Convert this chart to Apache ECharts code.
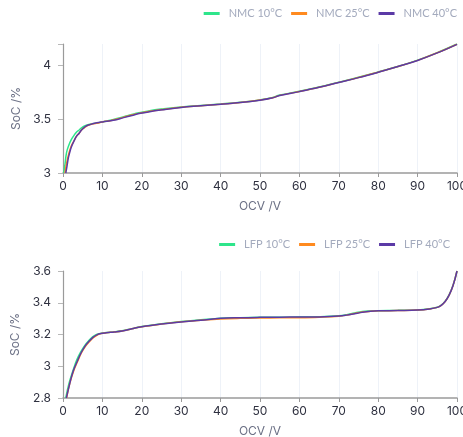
<!DOCTYPE html>
<html><head><meta charset="utf-8">
<script src="https://cdn.jsdelivr.net/npm/echarts@6/dist/echarts.min.js"></script>
<style>html,body{margin:0;padding:0;background:#fff}#c{width:463px;height:437px}</style>
</head><body><div id="c"></div>
<script>
const xTicks = [0,10,20,30,40,50,60,70,80,90,100];
const nmcNames = ['NMC 10°C','NMC 25°C','NMC 40°C'];
const lfpNames = ['LFP 10°C','LFP 25°C','LFP 40°C'];
const colors = ['#2ee58b','#ff8a1f','#5b3aa6'];

const nmcX10 = [0.2,0.5,0.9,1.5,2.1,2.8,3.4,4.1,4.7,5.6,7,8.5,10,12,14,16,18,20,22,25,30,35,40,45,50,53,55,60,65,70,75,80,85,90,95,100];
const nmc10  = [3.0,3.08,3.19,3.26,3.31,3.35,3.38,3.40,3.42,3.44,3.455,3.465,3.475,3.49,3.51,3.53,3.55,3.565,3.58,3.595,3.615,3.628,3.642,3.658,3.68,3.70,3.725,3.76,3.80,3.845,3.89,3.94,3.99,4.05,4.12,4.20];
const nmcX25 = [0.5,0.8,1.2,1.7,2.2,2.8,3.4,4.1,4.7,5.4,6.2,7,8.5,10,12,14,16,18,20,22,25,30,35,40,45,50,53,55,60,65,70,75,80,85,90,95,100];
const nmc25  = [3.0,3.07,3.14,3.21,3.26,3.30,3.34,3.37,3.40,3.42,3.44,3.452,3.462,3.475,3.487,3.505,3.525,3.545,3.56,3.575,3.59,3.612,3.626,3.64,3.656,3.678,3.698,3.722,3.758,3.798,3.843,3.888,3.938,3.99,4.048,4.118,4.198];
const nmcX40 = [0.7,1,1.3,1.7,2.1,2.7,3.4,4.1,4.7,5.4,6,7,7.7,10,12.8,15.4,17.5,19.7,22,24.8,30,35,40,45,50,53,55,60,65,70,75,80,85,90,95,100];
const nmc40  = [3.0,3.06,3.13,3.19,3.24,3.29,3.34,3.37,3.40,3.425,3.44,3.452,3.46,3.475,3.49,3.515,3.535,3.555,3.57,3.585,3.61,3.625,3.64,3.655,3.677,3.697,3.72,3.757,3.797,3.842,3.887,3.937,3.99,4.047,4.117,4.197];

const lfpX10 = [0.7,1.5,2.5,3.5,4.5,5.5,6.5,7.5,8.5,9.5,11,13,15,17.5,20,25,30,35,40,45,50,55,60,65,70,72,74,76,78,80,85,90,93,95,96,97,98,99,100];
const lfp10  = [2.8,2.89,2.97,3.04,3.09,3.13,3.16,3.185,3.2,3.207,3.212,3.217,3.223,3.237,3.25,3.268,3.282,3.293,3.303,3.306,3.308,3.309,3.31,3.312,3.318,3.325,3.336,3.345,3.348,3.35,3.352,3.355,3.362,3.372,3.385,3.41,3.45,3.51,3.6];
const lfpX25 = [0.9,1.7,2.7,3.7,4.7,5.7,6.7,7.7,8.7,9.7,11,13,15,17.5,20,25,30,35,40,45,50,55,60,65,70,72,74,76,78,80,85,90,93,95,96,97,98,99,100];
const lfp25  = [2.8,2.89,2.97,3.03,3.085,3.125,3.155,3.18,3.197,3.206,3.211,3.216,3.222,3.236,3.249,3.266,3.28,3.29,3.298,3.302,3.304,3.305,3.306,3.309,3.315,3.322,3.332,3.341,3.346,3.349,3.351,3.354,3.361,3.371,3.384,3.408,3.448,3.508,3.6];
const lfpX40 = [0.85,1.7,2.6,3.6,4.6,5.6,6.6,7.6,8.6,9.6,11,13,15,17.5,20,25,30,35,40,45,50,55,60,65,70,72,74,76,78,80,85,90,93,95,96,97,98,99,100];
const lfp40  = [2.8,2.89,2.97,3.03,3.085,3.127,3.157,3.182,3.198,3.206,3.211,3.216,3.222,3.236,3.249,3.266,3.279,3.29,3.302,3.306,3.308,3.309,3.31,3.311,3.316,3.322,3.331,3.34,3.346,3.349,3.351,3.354,3.361,3.371,3.384,3.408,3.448,3.508,3.6];

function pairs(xs, ys){ return xs.map((x,i)=>[x, ys[i]]); }

const FONT = 'Inter, "Noto Sans", sans-serif';
function xAxis(gi){
  return {
    type:'value', gridIndex:gi, min:0, max:100, interval:10,
    name:'OCV /V', nameLocation:'middle', nameGap:27,
    nameTextStyle:{color:'#6b7085', fontSize:12, fontFamily:FONT},
    axisLine:{show:true, lineStyle:{color:'#9a9a9a', width:1.5}},
    axisTick:{show:true, length:4, lineStyle:{color:'#9a9a9a'}},
    axisLabel:{color:'#2f3140', fontSize:12, margin:7, fontFamily:FONT},
    splitLine:{show:true, lineStyle:{color:'#eef2f8'}}
  };
}
function yAxis(gi, min, max, interval){
  const steps = (max-min)/interval;
  const partial = Math.abs(steps - Math.round(steps)) > 1e-6;
  return {
    type:'value', gridIndex:gi, min:min, max:max, interval:interval,
    name:'SoC /%', nameLocation:'middle', nameGap:26,
    nameTextStyle:{color:'#6b7085', fontSize:12, fontFamily:FONT, padding:[0,0,14,0]},
    axisLine:{show:true, lineStyle:{color:'#9a9a9a', width:1.2}},
    axisTick:{show:true, length:5, lineStyle:{color:'#b8b8b8'}},
    axisLabel:{color:'#2f3140', fontSize:12, margin:12, fontFamily:FONT,
      formatter: v => (partial && Math.abs(v-max)<1e-9) ? '' : String(+v.toFixed(2))},
    splitLine:{show:false}
  };
}
function ser(name, data, xi, yi, color){
  return {type:'line', name, data, xAxisIndex:xi, yAxisIndex:yi, smooth:0.4, showSymbol:false,
    lineStyle:{color, width:1.5}, itemStyle:{color}, z: 2};
}
function legend(names, right, top){
  return {data:names, right, top, padding:0, orient:'horizontal', itemWidth:16, itemHeight:3, itemGap:9, icon:'rect',
    textStyle:{color:'#a3aabd', fontSize:11, fontFamily:'Lato, sans-serif', padding:[0,0,0,4]}};
}
const chart = echarts.init(document.getElementById('c'), null, {renderer:'canvas'});
chart.setOption({
  animation:false,
  legend:[legend(nmcNames, 6, 8), legend(lfpNames, 13, 239)],
  grid:[{left:63, right:6, top:44, height:129, outerBoundsMode:'none'}, {left:63, right:6, top:271, height:127, outerBoundsMode:'none'}],
  xAxis:[xAxis(0), xAxis(1)],
  yAxis:[yAxis(0,3,4.2,0.5), yAxis(1,2.8,3.6,0.2)],
  series:[
    ser(nmcNames[0], pairs(nmcX10,nmc10), 0,0, colors[0]),
    ser(nmcNames[1], pairs(nmcX25,nmc25), 0,0, colors[1]),
    ser(nmcNames[2], pairs(nmcX40,nmc40), 0,0, colors[2]),
    ser(lfpNames[0], pairs(lfpX10,lfp10), 1,1, colors[0]),
    ser(lfpNames[1], pairs(lfpX25,lfp25), 1,1, colors[1]),
    ser(lfpNames[2], pairs(lfpX40,lfp40), 1,1, colors[2])
  ]
});
</script></body></html>
